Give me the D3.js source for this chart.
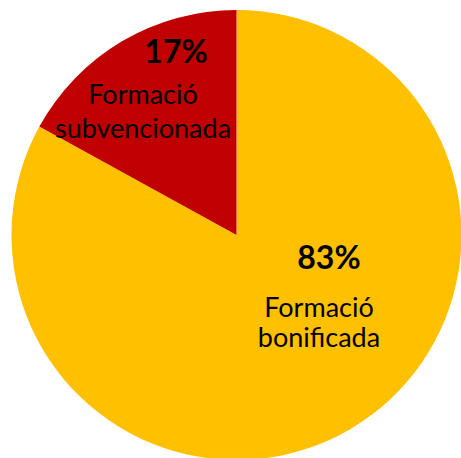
<!DOCTYPE html>
<html>
<head>
<meta charset="utf-8">
<script src="https://cdn.jsdelivr.net/npm/d3@7"></script>
<style>
  body { margin: 0; background: #fff; }
  text { font-family: Lato, "Open Sans", sans-serif; fill: #000; }
</style>
</head>
<body>
<div id="chart"></div>
<script>
// data
let categories = ["Formació bonificada", "Formació subvencionada"];
let values = [83, 17];
let colors = ["#FFC000", "#C00000"];

let svgWidth = 461;
let svgHeight = 458;
let cx = 236.5, cy = 235, radius = 225;

let svg = d3.select("#chart").append("svg")
  .attr("width", svgWidth)
  .attr("height", svgHeight);

let g = svg.append("g").attr("transform", `translate(${cx}, ${cy})`);

let pie = d3.pie().sort(null).value(d => d.value);
let arcs = pie(categories.map((c, i) => ({ name: c, value: values[i], color: colors[i] })));

let arc = d3.arc().innerRadius(0).outerRadius(radius);

g.selectAll("path")
  .data(arcs)
  .enter()
  .append("path")
  .attr("d", arc)
  .attr("fill", d => d.data.color);

// label layout, relative to pie center
let labelPos = [
  { pctX: 92.5, pctY: 34, x: 82.5, y: 82, step: 30 },
  { pctX: -60.5, pctY: -172, x: -93.5, y: -131, step: 34 }
];

let labels = g.selectAll(".lbl")
  .data(arcs)
  .enter()
  .append("g")
  .attr("class", "lbl");

labels.append("text")
  .attr("text-anchor", "middle")
  .attr("x", (d, i) => labelPos[i].pctX)
  .attr("y", (d, i) => labelPos[i].pctY)
  .style("font-size", "32px")
  .style("font-weight", "bold")
  .text(d => d.data.value + "%");

labels.each(function(d, i) {
  let words = d.data.name.split(" ");
  let t = d3.select(this);
  words.forEach((w, j) => {
    t.append("text")
      .attr("text-anchor", "middle")
      .attr("x", labelPos[i].x)
      .attr("y", labelPos[i].y + j * labelPos[i].step)
      .style("font-size", "27px")
      .text(w);
  });
});
</script>
</body>
</html>
